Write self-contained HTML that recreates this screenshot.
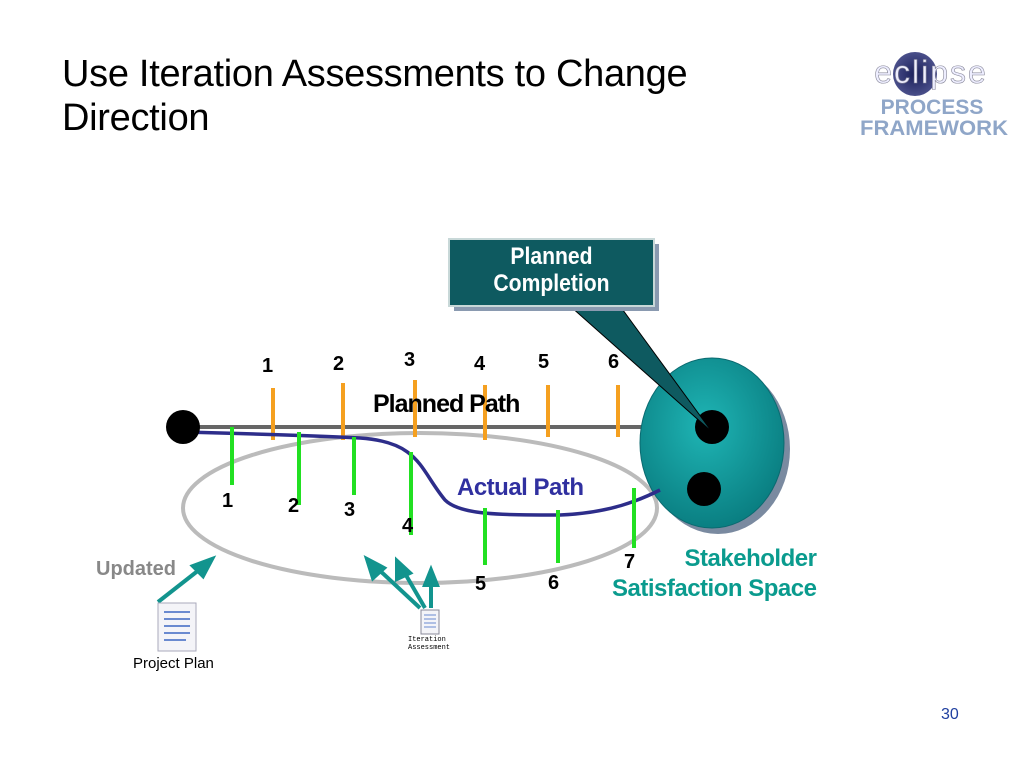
<!DOCTYPE html>
<html><head><style>
body{margin:0;width:1024px;height:768px;background:#fff;font-family:"Liberation Sans",sans-serif;position:relative;overflow:hidden}
.t{position:absolute;white-space:nowrap}
</style></head><body>
<div class="t" style="left:62px;top:52px;font-size:38px;line-height:44px;color:#000;letter-spacing:-0.3px">Use Iteration Assessments to Change<br>Direction</div>
<svg width="1024" height="768" style="position:absolute;left:0;top:0">
<defs>
<radialGradient id="g" cx="45%" cy="40%" r="60%"><stop offset="0" stop-color="#1fb5b5"/><stop offset="1" stop-color="#0a7f82"/></radialGradient>
<radialGradient id="lg" cx="50%" cy="50%" r="50%"><stop offset="0" stop-color="#1a1f5a"/><stop offset="1" stop-color="#4a4f8a"/></radialGradient>
</defs>
<!-- logo -->
<circle cx="915" cy="74" r="22" fill="url(#lg)"/>
<text x="931" y="83" font-size="32" fill="#eef" stroke="#889" stroke-width="0.6" text-anchor="middle" font-family="Liberation Sans" letter-spacing="2">eclipse</text>
<text x="932" y="114" font-size="21" font-weight="bold" fill="#8fa6c8" text-anchor="middle">PROCESS</text>
<text x="934" y="135" font-size="21" font-weight="bold" fill="#8fa6c8" text-anchor="middle" textLength="148" lengthAdjust="spacingAndGlyphs">FRAMEWORK</text>
<!-- ellipse -->
<ellipse cx="420" cy="508" rx="237" ry="75" fill="none" stroke="#bbb" stroke-width="4"/>
<!-- planned path -->
<line x1="183" y1="427" x2="712" y2="427" stroke="#666" stroke-width="4"/>
<g stroke="#f5a020" stroke-width="4">
<line x1="273" y1="388" x2="273" y2="440"/><line x1="343" y1="383" x2="343" y2="440"/>
<line x1="415" y1="380" x2="415" y2="437"/><line x1="485" y1="385" x2="485" y2="440"/>
<line x1="548" y1="385" x2="548" y2="437"/><line x1="618" y1="385" x2="618" y2="437"/>
</g>
<!-- teal oval -->
<ellipse cx="718" cy="449" rx="72" ry="85" fill="#7a8aa0"/>
<ellipse cx="712" cy="443" rx="72" ry="85" fill="url(#g)" stroke="#0a6a70" stroke-width="1"/>
<path d="M183 432 C260 434 320 436 360 438 C420 442 420 470 445 500 C460 515 500 515 560 515 C610 513 640 500 660 490" fill="none" stroke="#2d2d8a" stroke-width="3.5"/>
<g stroke="#22e022" stroke-width="4">
<line x1="232" y1="427" x2="232" y2="485"/><line x1="299" y1="432" x2="299" y2="505"/>
<line x1="354" y1="437" x2="354" y2="495"/><line x1="411" y1="452" x2="411" y2="535"/>
<line x1="485" y1="508" x2="485" y2="565"/><line x1="558" y1="510" x2="558" y2="563"/>
<line x1="634" y1="488" x2="634" y2="548"/>
</g>
<circle cx="183" cy="427" r="17" fill="#000"/>
<circle cx="712" cy="427" r="17" fill="#000"/>
<circle cx="704" cy="489" r="17" fill="#000"/>
<!-- callout -->
<polygon points="570,306 620,306 712,432" fill="#0e5a60" stroke="#000" stroke-width="1"/>
<rect x="454" y="244" width="205" height="67" fill="#8a9ab0"/>
<rect x="449" y="239" width="205" height="67" fill="#0e5a60" stroke="#c8d8d8" stroke-width="2"/>
<!-- arrows -->
<g stroke="#12948e" stroke-width="4" fill="#12948e">
<line x1="158" y1="602" x2="204" y2="566"/>
<polygon points="212,559 193,566 203,576"/>
<line x1="420" y1="608" x2="376" y2="567"/><polygon points="367,559 373,578 384,568"/>
<line x1="425" y1="608" x2="403" y2="570"/><polygon points="397,561 397,579 410,573"/>
<line x1="431" y1="608" x2="431" y2="580"/><polygon points="431,570 425,585 437,585"/>
</g>
<!-- doc icons -->
<rect x="158" y="603" width="38" height="48" fill="#f4f4f8" stroke="#aab" />
<g stroke="#6a8ad0" stroke-width="2"><line x1="164" y1="612" x2="190" y2="612"/><line x1="164" y1="619" x2="190" y2="619"/><line x1="164" y1="626" x2="190" y2="626"/><line x1="164" y1="633" x2="190" y2="633"/><line x1="164" y1="640" x2="186" y2="640"/></g>
<rect x="421" y="610" width="18" height="24" fill="#f4f4f8" stroke="#889"/>
<g stroke="#6a8ad0" stroke-width="1"><line x1="424" y1="615" x2="436" y2="615"/><line x1="424" y1="619" x2="436" y2="619"/><line x1="424" y1="623" x2="436" y2="623"/><line x1="424" y1="627" x2="436" y2="627"/></g>
</svg>
<div class="t" style="left:449px;top:243px;width:205px;text-align:center;color:#fff;font-size:24px;font-weight:bold;line-height:27px;transform:scaleX(0.88)">Planned<br>Completion</div>
<div class="t" style="left:373px;top:390px;font-size:25px;font-weight:bold;letter-spacing:-1px">Planned Path</div>
<div class="t" style="left:457px;top:474px;font-size:24px;font-weight:bold;color:#3030a0;letter-spacing:-0.5px">Actual Path</div>
<div class="t" style="left:612px;top:544px;font-size:24px;font-weight:bold;color:#0a9b8e;line-height:30px;text-align:right;letter-spacing:-0.5px">&nbsp;&nbsp;&nbsp;Stakeholder<br>Satisfaction Space</div>
<div class="t" style="left:96px;top:558px;font-size:20px;font-weight:bold;color:#888">Updated</div>
<div class="t" style="left:133px;top:655px;font-size:15px">Project Plan</div>
<div class="t" style="left:408px;top:636px;font-size:7px;font-family:'Liberation Mono',monospace;line-height:8px">Iteration<br>Assessment</div>
<div class="t" style="left:941px;top:706px;font-size:16px;color:#2040a0">30</div>
<div style="font-size:20px;font-weight:bold">
<div class="t" style="left:262px;top:355px">1</div><div class="t" style="left:333px;top:353px">2</div>
<div class="t" style="left:404px;top:349px">3</div><div class="t" style="left:474px;top:353px">4</div>
<div class="t" style="left:538px;top:351px">5</div><div class="t" style="left:608px;top:351px">6</div>
<div class="t" style="left:222px;top:490px">1</div><div class="t" style="left:288px;top:495px">2</div>
<div class="t" style="left:344px;top:499px">3</div><div class="t" style="left:402px;top:515px">4</div>
<div class="t" style="left:475px;top:573px">5</div><div class="t" style="left:548px;top:572px">6</div>
<div class="t" style="left:624px;top:551px">7</div>
</div>
</body></html>
